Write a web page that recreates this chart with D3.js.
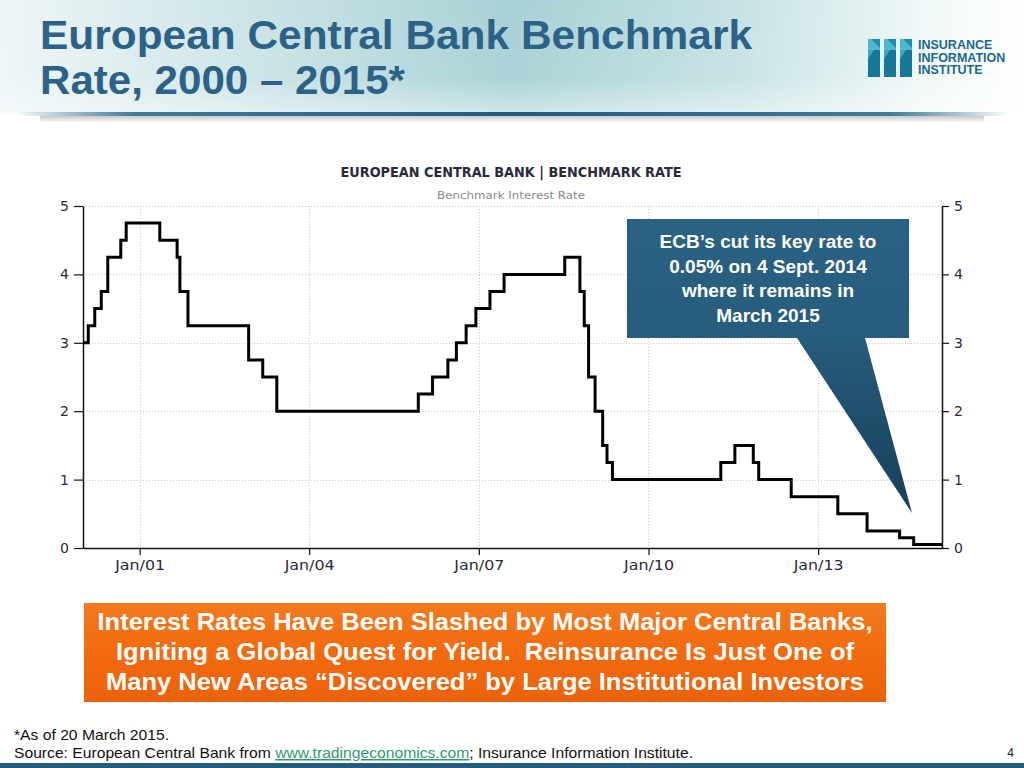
<!DOCTYPE html>
<html>
<head>
<meta charset="utf-8">
<script src="https://cdn.jsdelivr.net/npm/d3@7"></script>
<style>
  body { margin: 0; background: #fff; }
  svg { display: block; }
</style>
</head>
<body>
<svg id="chart" width="1024" height="768"></svg>
<script>
// ECB main refinancing rate: date the rate took effect, and the rate (%)
const rateDates = ["2000-01-01","2000-02-04","2000-03-17","2000-04-28","2000-06-09","2000-09-01","2000-10-06",
  "2001-05-11","2001-08-31","2001-09-18","2001-11-09","2002-12-06","2003-03-07","2003-06-06",
  "2005-12-06","2006-03-08","2006-06-15","2006-08-09","2006-10-11","2006-12-13","2007-03-14","2007-06-13",
  "2008-07-09","2008-10-15","2008-11-12","2008-12-10","2009-01-21","2009-03-11","2009-04-08","2009-05-13",
  "2011-04-13","2011-07-13","2011-11-09","2011-12-14","2012-07-11","2013-05-08","2013-11-13",
  "2014-06-11","2014-09-10","2015-03-12"];
const rates = [3.00,3.25,3.50,3.75,4.25,4.50,4.75,
  4.50,4.25,3.75,3.25,2.75,2.50,2.00,
  2.25,2.50,2.75,3.00,3.25,3.50,3.75,4.00,
  4.25,3.75,3.25,2.50,2.00,1.50,1.25,1.00,
  1.25,1.50,1.25,1.00,0.75,0.50,0.25,
  0.15,0.05,0.05];
const xTickDates = ["2001-01-01","2004-01-01","2007-01-01","2010-01-01","2013-01-01"];
const yTicks = [0, 1, 2, 3, 4, 5];

const titleLines = ["European Central Bank Benchmark", "Rate, 2000 \u2013 2015*"];
const calloutLines = ["ECB\u2019s cut its key rate to", "0.05% on 4 Sept. 2014", "where it remains in", "March 2015"];
const boxLines = ["Interest Rates Have Been Slashed by Most Major Central Banks,",
  "Igniting a Global Quest for Yield.\u00a0 Reinsurance Is Just One of",
  "Many New Areas \u201cDiscovered\u201d by Large Institutional Investors"];

const parse = d3.timeParse("%Y-%m-%d");
const series = rateDates.map((d, i) => ({ date: parse(d), value: rates[i] }));

const svg = d3.select("#chart");
const defs = svg.append("defs");

// ---- header ----
const hg = defs.append("linearGradient").attr("id", "hdr").attr("x1", 0).attr("x2", 1).attr("y1", 0).attr("y2", 0);
[["0%", "#eef6f7"], ["18%", "#d5e9eb"], ["50%", "#a8d1d5"], ["72%", "#c6e2e4"], ["90%", "#f0f8f8"], ["100%", "#ffffff"]]
  .forEach(s => hg.append("stop").attr("offset", s[0]).attr("stop-color", s[1]));
svg.append("rect").attr("x", 0).attr("y", 0).attr("width", 1024).attr("height", 113).attr("fill", "url(#hdr)");

const vg = defs.append("linearGradient").attr("id", "hdrfade").attr("x1", 0).attr("x2", 0).attr("y1", 0).attr("y2", 1);
vg.append("stop").attr("offset", "0%").attr("stop-color", "#fff").attr("stop-opacity", 0);
vg.append("stop").attr("offset", "70%").attr("stop-color", "#fff").attr("stop-opacity", 0.05);
vg.append("stop").attr("offset", "100%").attr("stop-color", "#fff").attr("stop-opacity", 0.45);
svg.append("rect").attr("x", 0).attr("y", 0).attr("width", 1024).attr("height", 113).attr("fill", "url(#hdrfade)");

const lg = defs.append("linearGradient").attr("id", "rule").attr("x1", 0).attr("x2", 1);
[["0%", "#1f6285", 0], ["12%", "#2a6e90", 0.9], ["50%", "#1d5d80", 1], ["88%", "#2a6e90", 0.9], ["100%", "#1f6285", 0]]
  .forEach(s => lg.append("stop").attr("offset", s[0]).attr("stop-color", s[1]).attr("stop-opacity", s[2]));
const sg = defs.append("linearGradient").attr("id", "shadow").attr("x1", 0).attr("x2", 0).attr("y1", 0).attr("y2", 1);
sg.append("stop").attr("offset", "0%").attr("stop-color", "#888").attr("stop-opacity", 0.45);
sg.append("stop").attr("offset", "100%").attr("stop-color", "#888").attr("stop-opacity", 0);
svg.append("rect").attr("x", 40).attr("y", 116).attr("width", 944).attr("height", 7).attr("fill", "url(#shadow)");
svg.append("rect").attr("x", 15).attr("y", 112).attr("width", 994).attr("height", 4).attr("fill", "url(#rule)");

svg.selectAll(".title")
  .data(titleLines)
  .enter()
  .append("text")
  .attr("class", "title")
  .attr("x", 40)
  .attr("y", (d, i) => 49 + i * 45)
  .attr("textLength", (d, i) => i === 0 ? 712 : 365)
  .attr("lengthAdjust", "spacingAndGlyphs")
  .style("font-family", "'Liberation Sans Narrow', 'Liberation Sans', Arial, sans-serif")
  .style("font-weight", "bold")
  .style("font-size", "40px")
  .attr("fill", "#2c6288")
  .text(d => d);

// logo
const logo = svg.append("g").attr("transform", "translate(868,39)");
[0, 16, 32].forEach(dx => {
  logo.append("rect").attr("x", dx).attr("y", 11).attr("width", 12).attr("height", 27).attr("fill", "#17789a");
  logo.append("path").attr("d", `M${dx},0 L${dx + 12},0 L${dx + 12},11 L${dx},11 Z`).attr("fill", "#4fb8cc");
  logo.append("path").attr("d", `M${dx + 3},0 L${dx + 12},0 L${dx + 12},9 Z`).attr("fill", "#1d8fae");
  logo.append("path").attr("d", `M${dx},11 L${dx + 6},11 L${dx},20 Z`).attr("fill", "#3aa9c0");
});
logo.selectAll("text.logo")
  .data(["INSURANCE", "INFORMATION", "INSTITUTE"])
  .enter()
  .append("text")
  .attr("x", 50)
  .attr("y", (d, i) => 10 + i * 12.5)
  .style("font-family", "'Liberation Sans', Arial, sans-serif")
  .style("font-weight", "bold")
  .style("font-size", "12.5px")
  .attr("fill", "#1b6990")
  .text(d => d);

// ---- chart ----
const x = d3.scaleTime()
  .domain([parse("2000-01-01"), parse("2015-03-12")])
  .range([83, 942]);
const y = d3.scaleLinear()
  .domain([0, 5])
  .range([548, 206]);

const chartFont = "Tahoma, 'DejaVu Sans', Verdana, sans-serif";

svg.append("text")
  .attr("x", 511).attr("y", 177)
  .attr("text-anchor", "middle")
  .attr("textLength", 341).attr("lengthAdjust", "spacingAndGlyphs")
  .style("font-family", chartFont).style("font-size", "14px").style("font-weight", "bold")
  .attr("fill", "#2a2a3a")
  .text("EUROPEAN CENTRAL BANK | BENCHMARK RATE");
svg.append("text")
  .attr("x", 511).attr("y", 199)
  .attr("text-anchor", "middle")
  .attr("textLength", 148).attr("lengthAdjust", "spacingAndGlyphs")
  .style("font-family", chartFont).style("font-size", "11px")
  .attr("fill", "#8a8a8a")
  .text("Benchmark Interest Rate");

// grid
const grid = svg.append("g").attr("stroke", "#c8c8c8").attr("stroke-dasharray", "1,2").attr("stroke-width", 1);
grid.selectAll(".hg")
  .data(yTicks.filter(t => t > 0))
  .enter()
  .append("line")
  .attr("x1", 83).attr("x2", 942)
  .attr("y1", d => Math.round(y(d)) + 0.5).attr("y2", d => Math.round(y(d)) + 0.5);
grid.selectAll(".vg")
  .data(xTickDates.map(parse))
  .enter()
  .append("line")
  .attr("x1", d => Math.round(x(d)) + 0.5).attr("x2", d => Math.round(x(d)) + 0.5)
  .attr("y1", 206).attr("y2", 548);

// axes
const styleAxis = g => {
  g.selectAll("path.domain").attr("stroke", "#111").attr("stroke-width", 1.5);
  g.selectAll(".tick line").attr("stroke", "#111").attr("stroke-width", 1.2);
  g.selectAll(".tick text").style("font-family", chartFont).style("font-size", "14px").attr("fill", "#2a2a3c");
};

svg.append("g")
  .attr("transform", "translate(83,0)")
  .call(d3.axisLeft(y).tickValues(yTicks).tickFormat(d3.format("d")).tickSize(9).tickSizeOuter(0).tickPadding(5))
  .call(styleAxis);

svg.append("g")
  .attr("transform", "translate(942,0)")
  .call(d3.axisRight(y).tickValues(yTicks).tickFormat(d3.format("d")).tickSize(7).tickSizeOuter(0).tickPadding(5))
  .call(styleAxis);

svg.append("g")
  .attr("transform", "translate(0,548)")
  .call(d3.axisBottom(x).tickValues(xTickDates.map(parse)).tickFormat(d3.timeFormat("Jan/%y")).tickSize(7).tickSizeOuter(0).tickPadding(5))
  .call(styleAxis)
  .call(g => g.selectAll(".tick text").attr("textLength", 50).attr("lengthAdjust", "spacingAndGlyphs"));

// line
const line = d3.line()
  .x(d => x(d.date))
  .y(d => y(d.value))
  .curve(d3.curveStepAfter);

svg.append("path")
  .datum(series)
  .attr("fill", "none")
  .attr("stroke", "#000")
  .attr("stroke-width", 3)
  .attr("stroke-linejoin", "miter")
  .attr("d", line);

// callout
const cg = defs.append("linearGradient").attr("id", "callout")
  .attr("gradientUnits", "userSpaceOnUse").attr("x1", 0).attr("x2", 0).attr("y1", 219).attr("y2", 513);
cg.append("stop").attr("offset", "0%").attr("stop-color", "#2b6385");
cg.append("stop").attr("offset", "40%").attr("stop-color", "#265c7c");
cg.append("stop").attr("offset", "100%").attr("stop-color", "#173f58");

svg.append("path")
  .attr("d", "M627,219 L909,219 L909,338 L865,338 L912,513 L797,338 L627,338 Z")
  .attr("fill", "url(#callout)");

svg.selectAll(".callout")
  .data(calloutLines)
  .enter()
  .append("text")
  .attr("x", 768)
  .attr("y", (d, i) => 248 + i * 24.5)
  .attr("text-anchor", "middle")
  .style("font-family", "'Liberation Sans', Arial, sans-serif")
  .style("font-weight", "bold")
  .style("font-size", "19px")
  .attr("fill", "#fff")
  .text(d => d);

// orange box
const og = defs.append("linearGradient").attr("id", "orange").attr("x1", 0).attr("x2", 0).attr("y1", 0).attr("y2", 1);
og.append("stop").attr("offset", "0%").attr("stop-color", "#f47a1e");
og.append("stop").attr("offset", "50%").attr("stop-color", "#f26a0e");
og.append("stop").attr("offset", "100%").attr("stop-color", "#ec620a");
svg.append("rect")
  .attr("x", 84).attr("y", 603).attr("width", 802).attr("height", 99)
  .attr("fill", "url(#orange)");

const boxWidths = [775, 738, 758];
svg.selectAll(".boxline")
  .data(boxLines)
  .enter()
  .append("text")
  .attr("x", 485)
  .attr("y", (d, i) => 630 + i * 30)
  .attr("text-anchor", "middle")
  .attr("textLength", (d, i) => boxWidths[i])
  .attr("lengthAdjust", "spacingAndGlyphs")
  .style("font-family", "'Liberation Sans Narrow', 'Liberation Sans', Arial, sans-serif")
  .style("font-weight", "bold")
  .style("font-size", "24px")
  .attr("fill", "#fff")
  .text(d => d);

// footer
const footFont = "'Liberation Sans Narrow', 'Liberation Sans', Arial, sans-serif";
svg.append("text")
  .attr("x", 14).attr("y", 740)
  .attr("textLength", 155).attr("lengthAdjust", "spacingAndGlyphs")
  .style("font-family", footFont).style("font-size", "15px")
  .attr("fill", "#111")
  .text("*As of 20 March 2015.");

const src = svg.append("text")
  .attr("x", 14).attr("y", 758)
  .attr("textLength", 679).attr("lengthAdjust", "spacingAndGlyphs")
  .style("font-family", footFont).style("font-size", "15px")
  .attr("fill", "#111");
src.append("tspan").text("Source: European Central Bank from ");
src.append("tspan").attr("fill", "#2f9a6c").attr("text-decoration", "underline").text("www.tradingeconomics.com");
src.append("tspan").text("; Insurance Information Institute.");

svg.append("text")
  .attr("x", 1014).attr("y", 757)
  .attr("text-anchor", "end")
  .style("font-family", "'Liberation Sans', Arial, sans-serif").style("font-size", "12px")
  .attr("fill", "#222")
  .text("4");

svg.append("rect").attr("x", 0).attr("y", 763).attr("width", 1024).attr("height", 5).attr("fill", "#245c7e");
</script>
</body>
</html>
